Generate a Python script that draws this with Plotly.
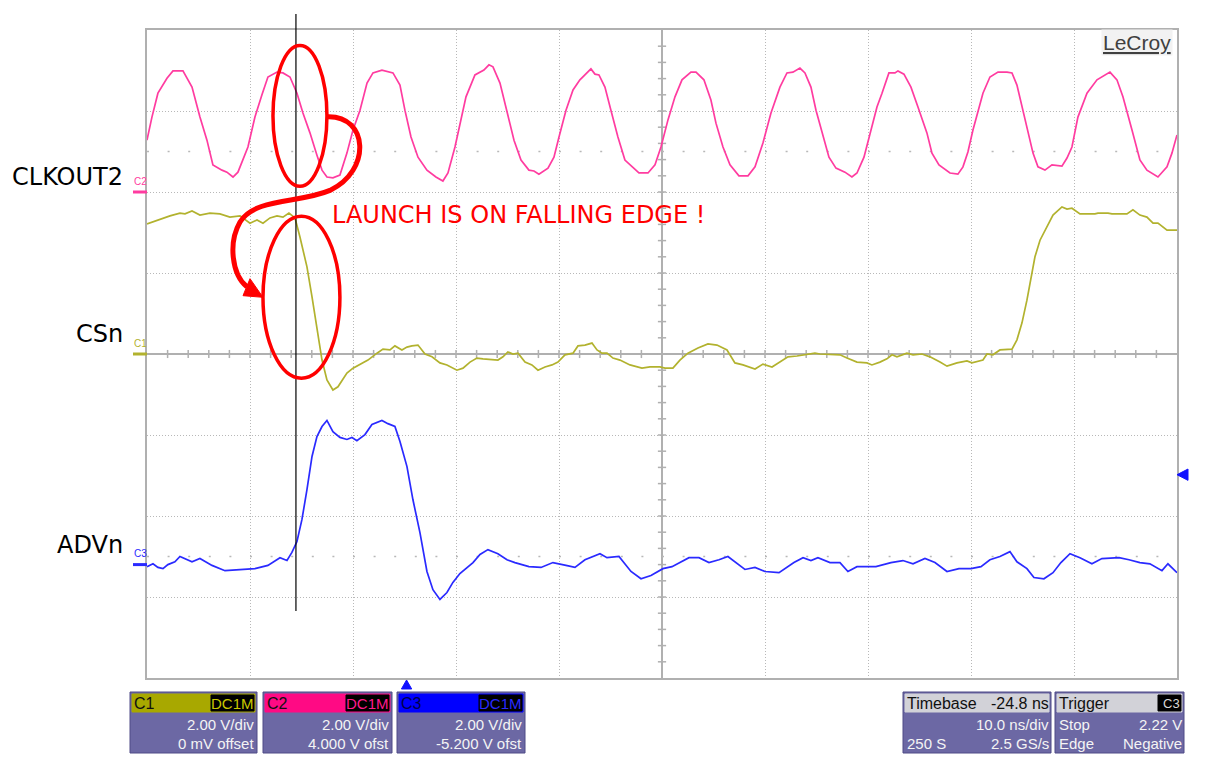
import plotly.graph_objects as go

# ---------------------------------------------------------------------------
# Captured waveforms: time in ns (0 = trigger), amplitude in volts
# ---------------------------------------------------------------------------
C2_T = [-25.2, -24.72, -24.14, -23.26, -22.68, -21.71, -20.83, -20.06, -19.38, -18.80,
        -17.92, -17.44, -16.85, -16.37, -15.40, -14.72, -14.04, -13.46, -12.58, -12.00,
        -11.32, -10.64, -10.06, -9.38, -8.70, -8.21, -7.73, -7.15, -6.47, -5.79,
        -5.20, -4.52, -3.84, -3.26, -2.39, -1.32, -0.64, -0.16, 0.43, 1.11,
        1.98, 2.85, 3.53, 4.02, 4.70, 5.28, 5.77, 6.64, 7.51, 8.00,
        8.39, 9.07, 9.75, 10.43, 11.11, 11.88, 12.37, 12.85, 13.73, 14.31,
        14.80, 15.48, 16.16, 16.83, 17.90, 18.29, 18.68, 19.26, 19.84, 20.52,
        21.20, 21.88, 22.56, 23.44, 24.12, 24.70, 25.38, 26.06, 26.74, 27.61,
        28.10, 28.87, 29.55, 30.04, 30.72, 31.40, 32.27, 33.15, 33.83, 34.60,
        35.38, 36.25, 36.93, 37.51, 38.19, 38.68, 39.26, 39.75, 40.43, 41.01,
        41.69, 42.56, 43.24, 43.73, 44.41, 44.99, 45.67, 46.16, 46.83, 47.42,
        47.71, 48.29, 48.97, 49.65, 50.52, 51.01, 51.69, 52.76, 53.53, 54.02,
        54.50, 54.99, 55.48, 55.96, 56.64, 57.42, 58.29, 58.78, 59.26, 59.75,
        60.23, 60.82, 61.30, 61.98, 62.66, 63.63, 64.12, 64.60, 65.18, 66.06,
        67.03, 68.29, 68.97, 69.55, 70.43, 71.20, 71.88, 72.95, 73.83, 74.31,
        74.80]
C2_V = [1.28, 1.85, 2.44, 2.81, 2.99, 2.99, 2.59, 1.85, 1.28, 0.67,
        0.54, 0.49, 0.37, 0.49, 1.11, 1.85, 2.40, 2.84, 2.96, 2.94,
        2.84, 2.44, 1.95, 1.46, 0.91, 0.54, 0.37, 0.35, 0.42, 0.96,
        1.53, 2.02, 2.69, 2.94, 3.01, 2.94, 2.64, 2.02, 1.36, 0.86,
        0.54, 0.37, 0.27, 0.47, 1.11, 1.78, 2.35, 2.89, 3.01, 3.14,
        3.09, 2.69, 2.02, 1.28, 0.79, 0.54, 0.52, 0.44, 0.59, 0.86,
        1.36, 2.02, 2.52, 2.77, 3.04, 2.91, 2.89, 2.59, 2.02, 1.36,
        0.79, 0.62, 0.47, 0.47, 0.67, 1.11, 1.78, 2.35, 2.77, 2.96,
        2.96, 2.77, 2.27, 1.70, 1.11, 0.67, 0.40, 0.40, 0.62, 1.21,
        1.95, 2.59, 2.94, 2.96, 3.06, 2.94, 2.59, 2.02, 1.36, 0.86,
        0.59, 0.49, 0.37, 0.47, 0.86, 1.46, 2.10, 2.44, 2.94, 2.94,
        2.99, 2.91, 2.59, 2.10, 1.46, 0.96, 0.67, 0.47, 0.44, 0.62,
        0.99, 1.53, 2.02, 2.44, 2.84, 2.96, 2.96, 2.94, 2.64, 2.10,
        1.53, 0.96, 0.62, 0.54, 0.67, 0.64, 0.84, 1.11, 1.85, 2.44,
        2.77, 2.96, 2.77, 2.35, 1.53, 0.79, 0.54, 0.37, 0.62, 0.96,
        1.41]

C1_T = [-25.2, -24.62, -23.65, -22.97, -22.00, -21.51, -20.83, -20.06, -19.09, -18.12,
        -17.15, -16.17, -15.20, -14.52, -13.94, -13.26, -12.58, -12.00, -11.42, -10.83,
        -10.35, -9.67, -9.18, -8.70, -8.21, -7.73, -7.15, -6.66, -5.79, -5.20,
        -4.33, -3.75, -2.87, -2.29, -1.61, -1.13, -0.45, 0.04, 0.52, 1.11,
        1.79, 2.47, 3.24, 3.92, 4.89, 5.48, 6.16, 6.83, 7.42, 8.87,
        9.36, 9.84, 10.33, 10.82, 11.50, 12.17, 12.76, 13.44, 14.12, 14.70,
        15.38, 16.16, 16.64, 17.32, 18.00, 18.49, 18.97, 19.46, 20.04, 20.72,
        21.69, 22.85, 23.63, 24.60, 25.09, 25.86, 26.54, 27.32, 28.29, 29.26,
        30.14, 31.11, 31.88, 32.66, 33.83, 34.60, 35.48, 36.25, 37.03, 37.90,
        38.87, 39.65, 40.14, 42.08, 42.76, 43.73, 44.70, 45.18, 45.96, 46.64,
        47.13, 47.61, 48.58, 49.17, 50.04, 50.82, 51.79, 52.47, 53.44, 54.41,
        54.89, 55.96, 56.35, 56.93, 57.61, 58.78, 59.26, 59.75, 60.23, 60.72,
        61.01, 61.50, 62.17, 62.76, 63.63, 64.12, 64.60, 65.38, 66.83, 67.13,
        68.10, 68.49, 69.94, 70.52, 71.20, 71.88, 72.47, 72.95, 73.83, 74.80]
C1_V = [3.21, 3.26, 3.36, 3.41, 3.48, 3.46, 3.53, 3.43, 3.48, 3.46,
        3.38, 3.41, 3.23, 3.31, 3.23, 3.36, 3.41, 3.38, 3.48, 3.36,
        2.89, 2.15, 1.41, 0.59, -0.15, -0.64, -0.89, -0.81, -0.47, -0.35,
        -0.22, -0.15, 0.02, 0.12, 0.10, 0.20, 0.10, 0.17, 0.20, 0.22,
        0.00, -0.07, -0.22, -0.27, -0.40, -0.35, -0.20, -0.10, -0.12, -0.15,
        -0.07, 0.05, 0.00, 0.02, -0.20, -0.27, -0.40, -0.32, -0.27, -0.20,
        -0.02, 0.02, 0.20, 0.22, 0.27, 0.10, 0.02, 0.02, -0.10, -0.15,
        -0.27, -0.35, -0.32, -0.32, -0.35, -0.35, -0.15, 0.02, 0.15, 0.25,
        0.22, 0.10, -0.22, -0.27, -0.37, -0.25, -0.32, -0.20, -0.07, -0.05,
        -0.02, 0.02, 0.00, -0.02, -0.10, -0.20, -0.22, -0.27, -0.20, -0.12,
        -0.02, -0.07, 0.02, -0.02, 0.00, -0.07, -0.20, -0.30, -0.22, -0.17,
        -0.22, -0.15, 0.00, -0.02, 0.10, 0.12, 0.35, 0.77, 1.33, 2.00,
        2.40, 2.81, 3.14, 3.43, 3.63, 3.58, 3.60, 3.46, 3.46, 3.48,
        3.48, 3.46, 3.46, 3.56, 3.43, 3.38, 3.23, 3.23, 3.06, 3.06]

C3_T = [-25.2, -24.62, -24.14, -23.65, -23.17, -22.49, -22.00, -21.32, -20.83, -20.06,
        -18.89, -17.63, -16.17, -14.72, -13.46, -12.29, -11.61, -11.13, -10.64, -10.16,
        -9.67, -9.18, -8.70, -8.21, -7.73, -7.15, -6.47, -5.79, -5.30, -4.82,
        -4.04, -3.36, -2.39, -1.81, -1.13, -0.64, 0.04, 0.62, 1.30, 1.98,
        2.56, 3.24, 3.92, 4.50, 5.18, 6.45, 7.13, 7.90, 8.87, 9.75,
        10.52, 11.88, 13.05, 14.21, 15.48, 16.35, 17.32, 18.78, 19.46, 20.62,
        21.79, 22.76, 23.73, 24.89, 25.77, 27.42, 28.39, 29.36, 30.33, 31.20,
        32.85, 33.83, 34.80, 36.16, 37.61, 38.49, 39.26, 39.94, 41.11, 42.08,
        42.85, 43.73, 45.57, 47.03, 48.19, 49.17, 50.33, 51.30, 52.47, 53.63,
        54.80, 55.77, 56.64, 57.61, 58.58, 59.26, 60.23, 60.91, 61.88, 62.76,
        63.53, 64.41, 65.38, 66.54, 67.51, 69.17, 70.14, 71.20, 72.17, 73.34,
        73.92, 74.80]
C3_V = [-0.05, 0.02, -0.07, -0.10, 0.00, 0.07, 0.20, 0.12, 0.07, 0.15,
        -0.02, -0.15, -0.12, -0.10, -0.02, 0.17, 0.10, 0.30, 0.57, 1.11,
        1.85, 2.67, 3.16, 3.41, 3.56, 3.28, 3.14, 3.09, 3.14, 3.06,
        3.21, 3.46, 3.56, 3.48, 3.41, 3.04, 2.42, 1.60, 0.79, -0.17,
        -0.62, -0.86, -0.69, -0.44, -0.22, 0.05, 0.25, 0.37, 0.27, 0.12,
        0.05, -0.05, -0.07, 0.05, -0.02, -0.07, 0.12, 0.27, 0.17, 0.20,
        -0.17, -0.35, -0.27, -0.10, -0.05, 0.17, 0.17, 0.05, 0.12, 0.20,
        -0.12, -0.07, -0.17, -0.20, 0.05, 0.17, 0.10, 0.17, 0.05, 0.05,
        -0.17, -0.05, -0.05, 0.05, 0.10, 0.02, 0.15, 0.05, -0.17, -0.10,
        -0.10, -0.05, 0.12, 0.20, 0.32, 0.07, -0.10, -0.32, -0.35, -0.20,
        0.05, 0.27, 0.17, 0.02, 0.15, 0.17, 0.12, 0.05, 0.02, -0.15,
        0.02, -0.20]

# ---------------------------------------------------------------------------
# Scope settings
# ---------------------------------------------------------------------------
CHANNELS = ["C1", "C2", "C3"]
SIGNAL_NAMES = ["CSn", "CLKOUT2", "ADVn"]
VOLTS_PER_DIV = [2.0, 2.0, 2.0]
OFFSETS_V = [0.0, 4.0, -5.2]
CH_COLOURS = ["#b2b22e", "#ff3ca0", "#2a2aff"]
HEAD_COLOURS = ["#a8a800", "#ff0a84", "#0000ff"]
BADGE_TEXT = ["#c8c800", "#ff1a8c", "#2a2aff"]
OFFSET_TEXT = ["0 mV offset", "4.000 V ofst", "-5.200 V ofst"]

NS_PER_DIV = 10.0
T_LEFT = -25.2
TRIGGER_LEVEL_V = 2.22   # C3, negative edge
CURSOR_T = -10.74

# the page body has an 8px margin, so the figure is drawn inside it
W, H = 1210, 775
PAD = 8
FW, FH = W - 2 * PAD, H - 2 * PAD
GX0, GX1, GY0, GY1 = 147, 1177, 30, 678   # graticule in window pixels
GRID = "#b8b8b8"
BODY = "#6c68a4"
RED = "#ff0000"
TRIG_BLUE = "#1010ff"


def px(x):
    return (x - PAD) / FW


def py(y):
    return 1 - (y - PAD) / FH


def to_div(volts, ch):
    return [(v + OFFSETS_V[ch]) / VOLTS_PER_DIV[ch] for v in volts]


fig = go.Figure()

waves = [(C1_T, C1_V), (C2_T, C2_V), (C3_T, C3_V)]
for ch, (t, v) in enumerate(waves):
    fig.add_trace(go.Scatter(
        x=t, y=to_div(v, ch), mode="lines",
        line=dict(color=CH_COLOURS[ch], width=1.7),
        hoverinfo="skip", name=CHANNELS[ch],
    ))

t_right = T_LEFT + 10 * NS_PER_DIV
t_mid = T_LEFT + 5 * NS_PER_DIV

# trigger markers: level on C3 at the right edge, trigger time below the grid
trig_div = (TRIGGER_LEVEL_V + OFFSETS_V[2]) / VOLTS_PER_DIV[2]
fig.add_shape(type="path", xref="paper", yref="y",
              path="M %f,%f L %f,%f L %f,%f Z" % (px(1177), trig_div, px(1188), trig_div + 0.07,
                                                 px(1188), trig_div - 0.07),
              fillcolor=TRIG_BLUE, line=dict(color=TRIG_BLUE, width=1), layer="above")
fig.add_shape(type="path", xref="x", yref="paper",
              path="M 0,%f L 0.5,%f L -0.5,%f Z" % (py(680), py(689), py(689)),
              fillcolor=TRIG_BLUE, line=dict(color=TRIG_BLUE, width=1), layer="above")

# centre cross with minor ticks
fig.add_shape(type="line", xref="x", yref="y", x0=t_mid, x1=t_mid, y0=-4, y1=4,
              line=dict(color="#b0b0b0", width=2), layer="between")
fig.add_shape(type="line", xref="x", yref="y", x0=T_LEFT, x1=t_right, y0=0, y1=0,
              line=dict(color="#b0b0b0", width=2), layer="between")
for k in range(1, 50):
    t = T_LEFT + k * NS_PER_DIV / 5
    fig.add_shape(type="line", xref="x", yref="y", x0=t, x1=t, y0=-0.05, y1=0.05,
                  line=dict(color="#b0b0b0", width=1.5), layer="between")
for k in range(-19, 20):
    yv = k / 5
    fig.add_shape(type="line", xref="x", yref="y", x0=t_mid - 0.4, x1=t_mid + 0.4,
                  y0=yv, y1=yv, line=dict(color="#b0b0b0", width=1.5), layer="between")
for yv in (2.5, -2.5):
    fig.add_shape(type="line", xref="x", yref="y", x0=T_LEFT, x1=t_right, y0=yv, y1=yv,
                  line=dict(color="#b8b8b8", width=1.5, dash="2px,18.6px"), layer="between")

# cursor line
fig.add_shape(type="line", xref="x", yref="paper", x0=CURSOR_T, x1=CURSOR_T,
              y0=py(611), y1=py(14), line=dict(color="black", width=1.2), layer="above")

# red hand annotations
fig.add_shape(type="circle", xref="x", yref="y", x0=-12.97, x1=-7.73, y0=2.07, y1=3.81,
              line=dict(color=RED, width=3.5), layer="above")
fig.add_shape(type="circle", xref="x", yref="y", x0=-13.94, x1=-6.47, y0=-0.30, y1=1.70,
              line=dict(color=RED, width=3.5), layer="above")
fig.add_shape(type="path", xref="x", yref="y",
              path=("M -7.63,2.93 C -3.74,2.94 -3.36,2.27 -7.44,2.02 "
                    "C -10.35,1.86 -14.72,1.93 -16.17,1.63 "
                    "C -17.34,1.37 -16.95,0.98 -15.50,0.83"),
              line=dict(color=RED, width=5), layer="above")
fig.add_shape(type="path", xref="x", yref="y",
              path="M -13.94,0.70 L -15.20,0.93 L -15.88,0.72 Z",
              fillcolor=RED, line=dict(color=RED, width=1), layer="above")
fig.add_annotation(x=-7.42, y=1.72, xref="x", yref="y", text="LAUNCH IS ON FALLING EDGE !",
                   showarrow=False, xanchor="left", yanchor="middle",
                   font=dict(family="DejaVu Sans", size=24, color=RED))

# signal names and channel ground markers
name_y = [334, 177, 545]
for ch in range(3):
    fig.add_annotation(x=px(125), y=py(name_y[ch]), xref="paper", yref="paper",
                       text=SIGNAL_NAMES[ch], showarrow=False, xanchor="right",
                       yanchor="middle", font=dict(family="DejaVu Sans", size=24, color="black"))
    g = OFFSETS_V[ch] / VOLTS_PER_DIV[ch]
    fig.add_shape(type="line", xref="paper", yref="y", x0=px(133), x1=px(147), y0=g, y1=g,
                  line=dict(color=CH_COLOURS[ch], width=3))
    fig.add_annotation(x=px(132), y=g, xref="paper", yref="y", yshift=11, text=CHANNELS[ch],
                       showarrow=False, xanchor="left", yanchor="middle",
                       font=dict(family="Liberation Sans", size=10, color=CH_COLOURS[ch]))


def rect(x0, y0, x1, y1, fill, line=None):
    fig.add_shape(type="rect", xref="paper", yref="paper", x0=px(x0), x1=px(x1),
                  y0=py(y1), y1=py(y0), fillcolor=fill, layer="above",
                  line=dict(color=line or fill, width=1))


def text(x, y, s, anchor, color="#f4f4f4", size=15):
    fig.add_annotation(x=px(x), y=py(y), xref="paper", yref="paper", text=s,
                       showarrow=False, xanchor=anchor, yanchor="middle",
                       font=dict(family="Liberation Sans, Arial", size=size, color=color))


# channel info panels
panel_x = [(130, 257), (263, 392), (397, 525)]
for ch, (x0, x1) in enumerate(panel_x):
    rect(x0, 692, x1, 753, BODY, "#4e4a86")
    rect(x0 + 2, 694, x1 - 2, 712, HEAD_COLOURS[ch])
    rect(x1 - 46, 695, x1 - 3, 711, "black")
    text(x0 + 2, 703, CHANNELS[ch], "left", color="#101010" if ch < 2 else "#00004a", size=16)
    text(x1 - 1, 703, "DC1M", "right", color=BADGE_TEXT[ch])
    text(x1 - 1, 724, "%.2f V/div" % VOLTS_PER_DIV[ch], "right")
    text(x1 - 1, 743, OFFSET_TEXT[ch], "right")

# timebase panel
rect(903, 692, 1051, 753, BODY, "#4e4a86")
rect(905, 694, 1049, 712, "#d2d2d8")
text(905, 703, "Timebase", "left", color="#101010", size=16)
text(1051, 703, "%.1f ns" % (-t_mid), "right", color="#101010", size=16)
text(1051, 724, "%.1f ns/div" % NS_PER_DIV, "right")
text(905, 743, "250 S", "left")
text(1051, 743, "2.5 GS/s", "right")

# trigger panel
rect(1055, 692, 1184, 753, BODY, "#4e4a86")
rect(1057, 694, 1182, 712, "#d2d2d8")
rect(1158, 695, 1181, 711, "black")
text(1057, 703, "Trigger", "left", color="#101010", size=16)
text(1182, 703, "C3", "right", color="#d8d8d8", size=13)
text(1057, 724, "Stop", "left")
text(1184, 724, "%.2f V" % TRIGGER_LEVEL_V, "right")
text(1057, 743, "Edge", "left")
text(1184, 743, "Negative", "right")

fig.add_annotation(x=px(1173), y=py(43), xref="paper", yref="paper", text="<u>LeCroy</u>",
                   showarrow=False, xanchor="right", yanchor="middle", bgcolor="#f2f2f2",
                   font=dict(family="Liberation Sans, Arial", size=21, color="#404040"))

axis_common = dict(showgrid=True, gridcolor=GRID, griddash="1px,2px", gridwidth=1,
                   showticklabels=False, ticks="", zeroline=False, showline=True,
                   mirror=True, linecolor="#b0b0b0", linewidth=2, fixedrange=True)
fig.update_layout(
    width=FW, height=FH,
    margin=dict(l=0, r=0, t=0, b=0),
    paper_bgcolor="white", plot_bgcolor="white",
    showlegend=False,
    xaxis=dict(domain=[px(GX0), px(GX1)], range=[T_LEFT, t_right], tick0=T_LEFT,
               dtick=NS_PER_DIV, **axis_common),
    yaxis=dict(domain=[py(GY1), py(GY0)], range=[-4, 4], tick0=0, dtick=1, **axis_common),
)

fig.write_html("out.html")
